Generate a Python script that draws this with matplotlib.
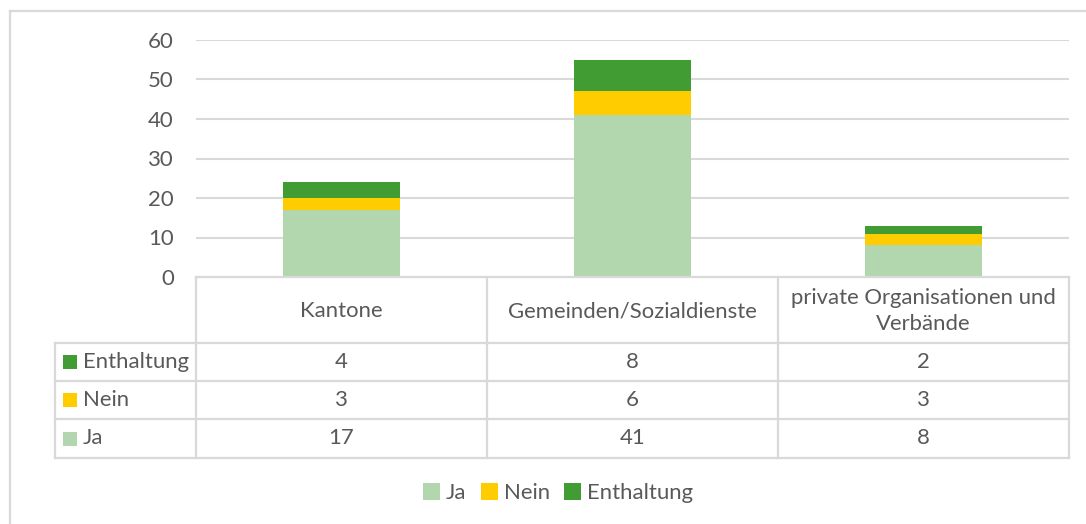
import matplotlib
matplotlib.use("Agg")
import matplotlib.pyplot as plt
from matplotlib.patches import Rectangle

# ---- data ----
categories = ["Kantone", "Gemeinden/Sozialdienste", "private Organisationen und\nVerbände"]
series_names = ["Ja", "Nein", "Enthaltung"]
ja = [17, 41, 8]
nein = [3, 6, 3]
enthaltung = [4, 8, 2]
yticks = [0, 10, 20, 30, 40, 50, 60]

colors = {"Ja": "#B2D7AE", "Nein": "#FFCC00", "Enthaltung": "#429C34"}
TXT = "#595959"
GRID = "#D9D9D9"
FONT = "Lato"

W, H = 1086, 524
fig = plt.figure(figsize=(W / 100, H / 100), dpi=100)

# calibrate font size so text width resembles the reference
probe = fig.text(0, 0, "Gemeinden/Sozialdienste", fontsize=14, family=FONT)
fig.canvas.draw()
wpx = probe.get_window_extent().width
probe.remove()
FS = 14 * 250 / wpx

# plot area
L, R, T, B = 196, 1069, 40, 277
ax = fig.add_axes([L / W, 1 - B / H, (R - L) / W, (B - T) / H])
x = list(range(len(categories)))
bw = 0.4
b1 = ax.bar(x, ja, bw, color=colors["Ja"], label="Ja", zorder=3)
b2 = ax.bar(x, nein, bw, bottom=ja, color=colors["Nein"], label="Nein", zorder=3)
bot3 = [a + b for a, b in zip(ja, nein)]
b3 = ax.bar(x, enthaltung, bw, bottom=bot3, color=colors["Enthaltung"], label="Enthaltung", zorder=3)
ax.set_xlim(-0.5, len(categories) - 0.5)
ax.set_ylim(0, 60)
ax.set_yticks(yticks)
ax.set_yticklabels([str(v) for v in yticks], fontsize=FS, color=TXT, family=FONT)
ax.tick_params(axis="y", length=0, pad=16)
ax.set_xticks([])
for s in ax.spines.values():
    s.set_visible(False)
for v in yticks[1:]:
    ax.axhline(v, color=GRID, lw=1.5, zorder=1)

# overlay for table
ov = fig.add_axes([0, 0, 1, 1], zorder=5)
ov.set_xlim(0, W)
ov.set_ylim(H, 0)
ov.axis("off")
ov.patch.set_alpha(0)

lk = dict(color=GRID, lw=1.6, solid_capstyle="projecting")
# outer chart border
ov.plot([9.5, 9.5], [10.5, H], **lk)
ov.plot([9.5, W], [10.5, 10.5], **lk)

TL = 55
col_edges = [L + i * (R - L) / len(categories) for i in range(len(categories) + 1)]
row_y = [277, 343, 381, 419, 458]
ov.plot([L, R], [row_y[0], row_y[0]], **lk)
for yy in row_y[1:]:
    ov.plot([TL, R], [yy, yy], **lk)
ov.plot([TL, TL], [row_y[1], row_y[-1]], **lk)
for xx in col_edges:
    ov.plot([xx, xx], [row_y[0], row_y[-1]], **lk)

# header
for i, c in enumerate(categories):
    cx = (col_edges[i] + col_edges[i + 1]) / 2
    ov.text(cx, (row_y[0] + row_y[1]) / 2 + 1, c, ha="center", va="center",
            fontsize=FS, color=TXT, family=FONT, linespacing=1.4)

rows = [("Enthaltung", enthaltung), ("Nein", nein), ("Ja", ja)]
for r, (name, vals) in enumerate(rows):
    yc = (row_y[r + 1] + row_y[r + 2]) / 2
    ov.add_patch(Rectangle((63, yc - 7), 14, 14, color=colors[name], lw=0))
    ov.text(83, yc, name, ha="left", va="center", fontsize=FS, color=TXT, family=FONT)
    for i, v in enumerate(vals):
        cx = (col_edges[i] + col_edges[i + 1]) / 2
        ov.text(cx, yc, str(v), ha="center", va="center", fontsize=FS, color=TXT, family=FONT)

# bottom legend
handles = [b1, b2, b3]
leg = fig.legend(handles, series_names, loc="center", bbox_to_anchor=(558 / W, 1 - 493 / H),
                 ncol=3, frameon=False, handlelength=0.78, handleheight=0.78,
                 handletextpad=0.25, columnspacing=0.65, prop={"family": FONT, "size": FS})
for t in leg.get_texts():
    t.set_color(TXT)

fig.savefig("out.png", dpi=100)
